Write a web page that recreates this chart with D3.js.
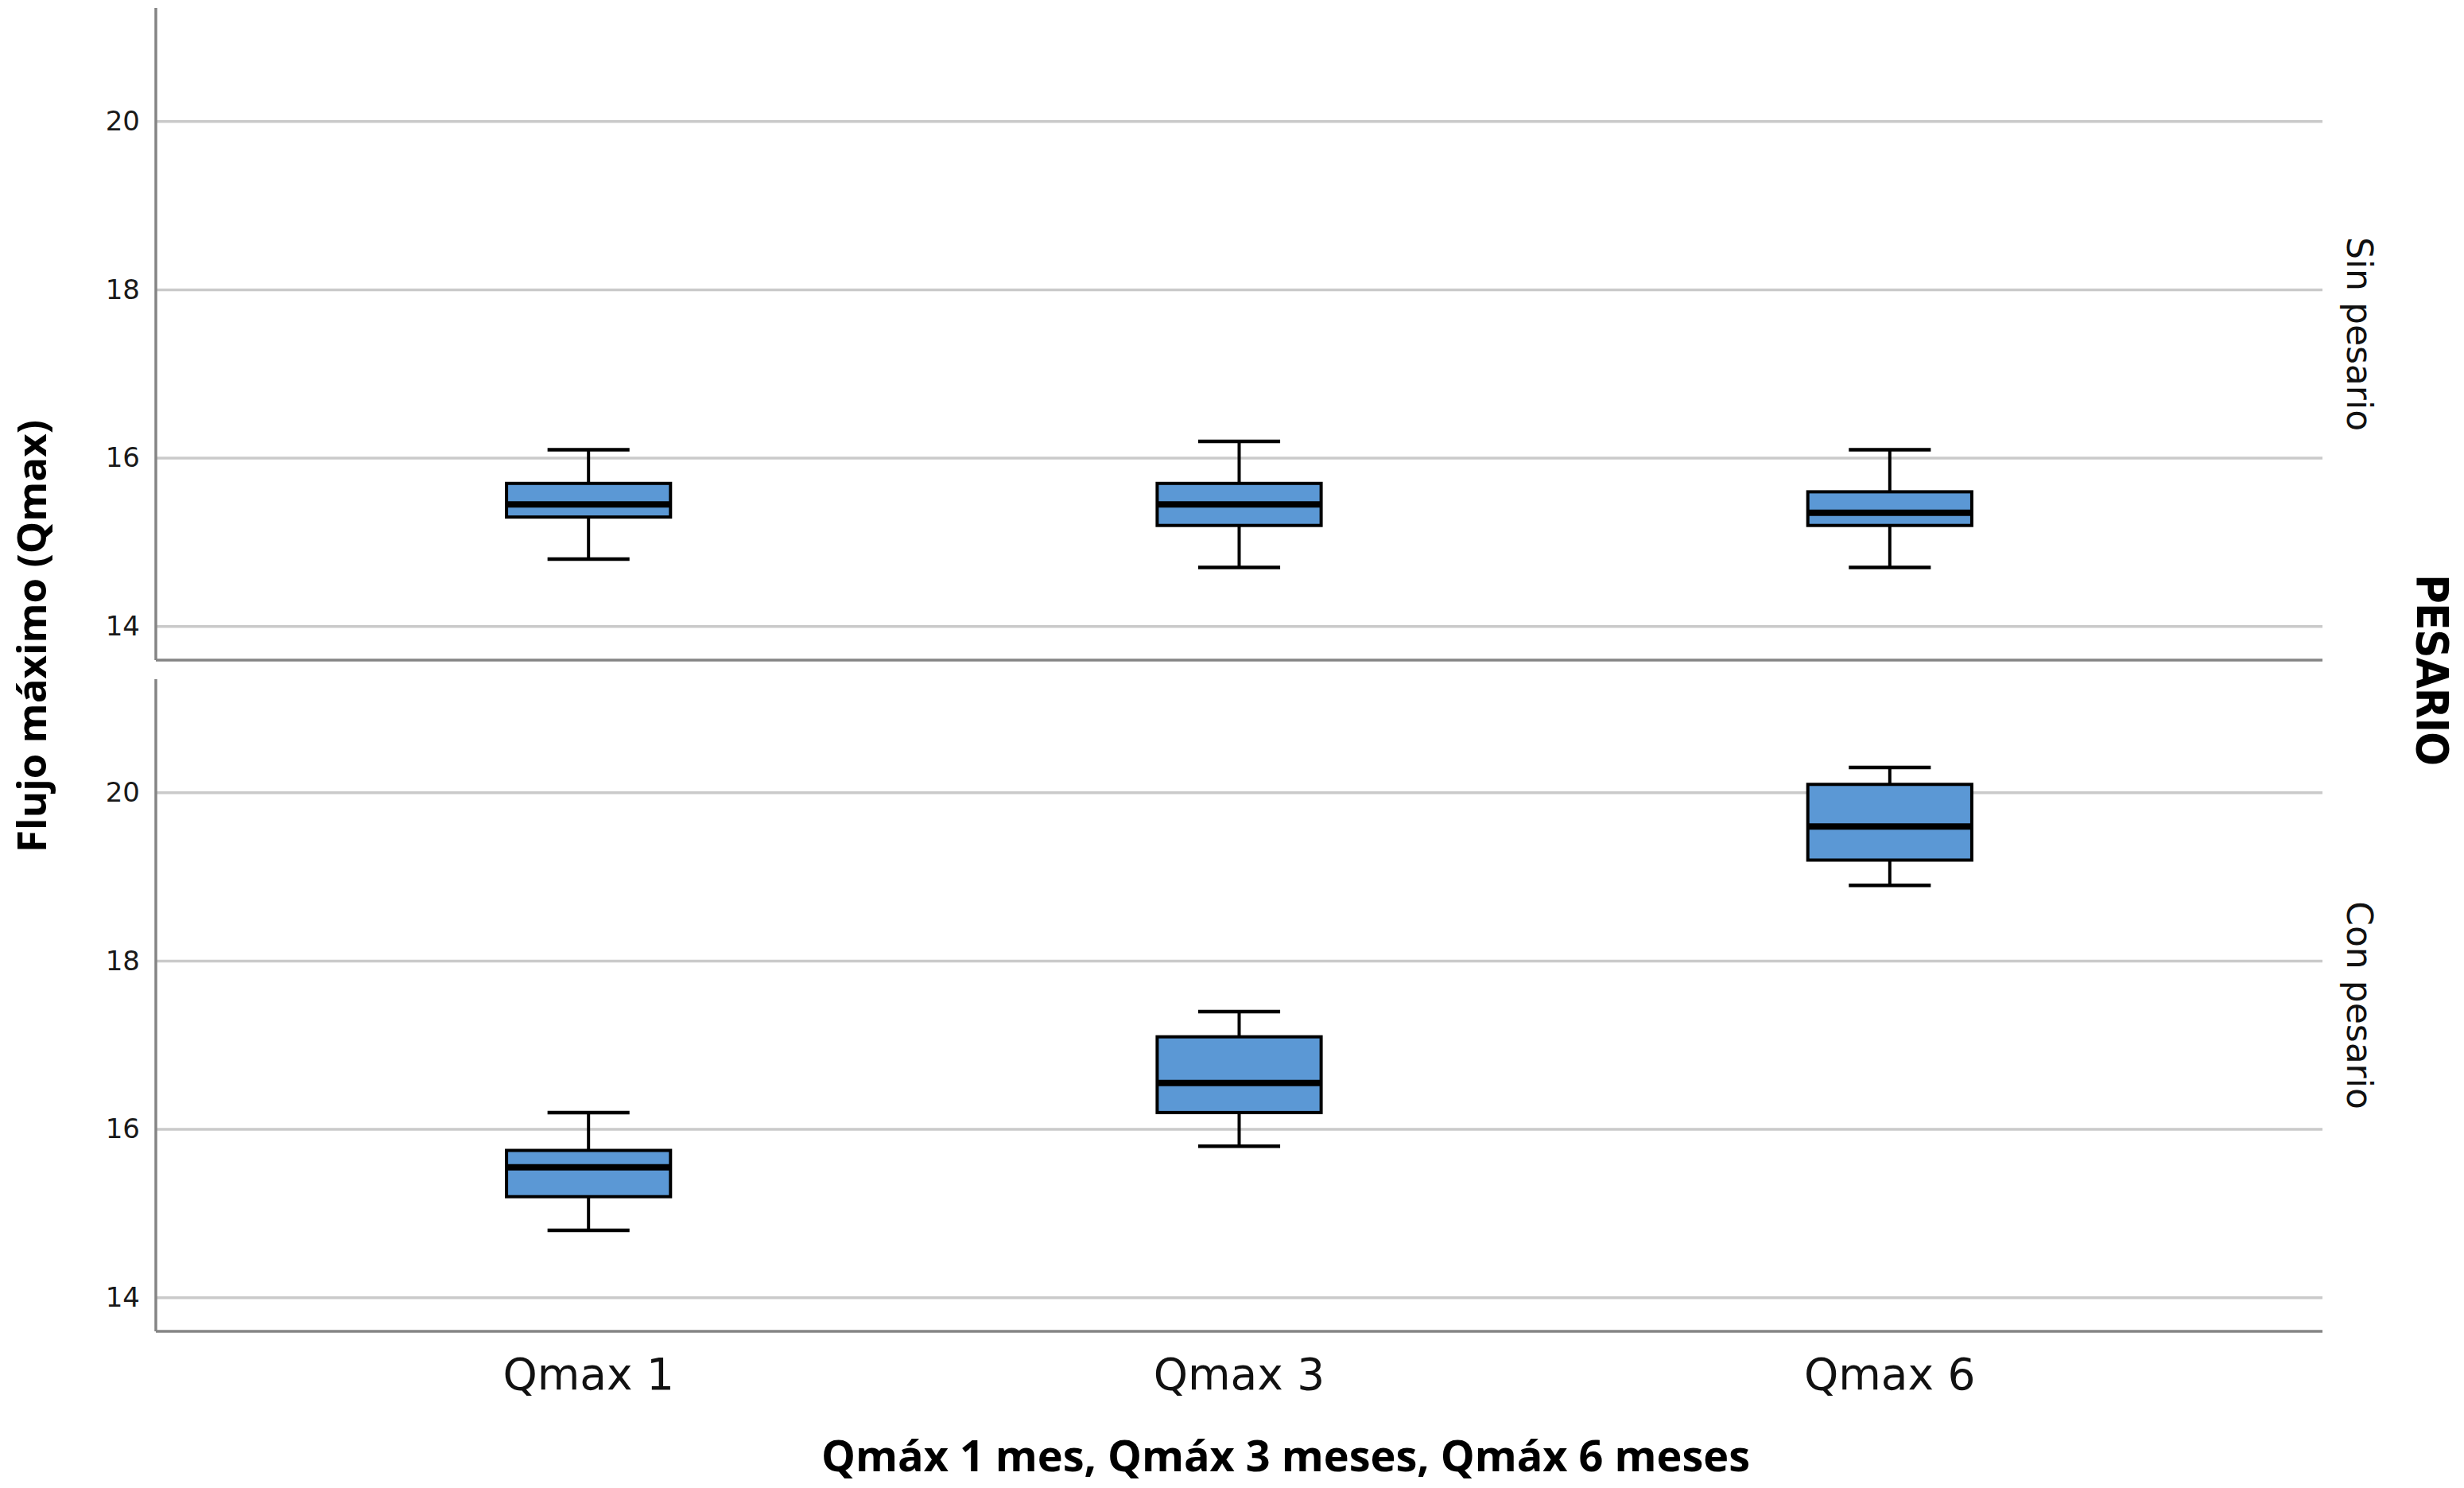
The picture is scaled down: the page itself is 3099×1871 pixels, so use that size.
<!DOCTYPE html>
<html>
<head>
<meta charset="utf-8">
<script src="https://cdn.jsdelivr.net/npm/d3@7"></script>
<style>
  body { margin: 0; background: #fff; }
  .tick-label { font-family: "DejaVu Sans", sans-serif; font-size: 34px; fill: #1a1a1a; }
  .cat-label { font-family: "DejaVu Sans", sans-serif; font-size: 55px; fill: #111; }
  .panel-label { font-family: "DejaVu Sans", sans-serif; font-size: 44px; fill: #111; }
  .title { font-family: "Open Sans", sans-serif; font-weight: 700; fill: #000; }
</style>
</head>
<body>
<svg width="3099" height="1871"></svg>
<script>
// data
var categories = ["Qmax 1", "Qmax 3", "Qmax 6"];
var panels = ["Sin pesario", "Con pesario"];
var yTicks = [14, 16, 18, 20];

var sinLow = [14.8, 14.7, 14.7];
var sinQ1 = [15.3, 15.2, 15.2];
var sinMed = [15.45, 15.45, 15.35];
var sinQ3 = [15.7, 15.7, 15.6];
var sinHigh = [16.1, 16.2, 16.1];

var conLow = [14.8, 15.8, 18.9];
var conQ1 = [15.2, 16.2, 19.2];
var conMed = [15.55, 16.55, 19.6];
var conQ3 = [15.75, 17.1, 20.1];
var conHigh = [16.2, 17.4, 20.3];

var boxes = [
    {low: sinLow, q1: sinQ1, med: sinMed, q3: sinQ3, high: sinHigh},
    {low: conLow, q1: conQ1, med: conMed, q3: conQ3, high: conHigh}
];

var left = 196, right = 2921,
    panelTops = [10, 854],
    panelH = 820;

var svg = d3.select("svg");

var x = d3.scalePoint()
    .domain(categories)
    .range([left, right])
    .padding(0.665);

var boxW = x.step() * 0.252;

panels.forEach(function(name, p) {
    var top = panelTops[p];
    var y = d3.scaleLinear()
        .domain([13.6, 21.35])
        .range([top + panelH, top]);
    var g = svg.append("g");

    // grid
    g.selectAll("line.grid")
        .data(yTicks)
        .enter().append("line")
        .attr("class", "grid")
        .attr("x1", left).attr("x2", right)
        .attr("y1", d => y(d)).attr("y2", d => y(d))
        .attr("stroke", "#cacaca")
        .attr("stroke-width", 3.5);

    // y axis with own labels
    var ax = g.append("g")
        .attr("transform", "translate(" + left + ",0)")
        .call(d3.axisLeft(y).tickValues(yTicks).tickSize(0).tickPadding(20));
    ax.select(".domain").remove();
    ax.selectAll("text").attr("class", "tick-label").attr("font-size", null).attr("font-family", null);

    g.append("line")
        .attr("x1", left).attr("x2", left)
        .attr("y1", top).attr("y2", top + panelH)
        .attr("stroke", "#858585").attr("stroke-width", 3.5);
    g.append("line")
        .attr("x1", left).attr("x2", right)
        .attr("y1", top + panelH).attr("y2", top + panelH)
        .attr("stroke", "#858585").attr("stroke-width", 3.5);

    var b = boxes[p];
    var items = categories.map(function(c, i) {
        return {cat: c, low: b.low[i], q1: b.q1[i], med: b.med[i], q3: b.q3[i], high: b.high[i]};
    });

    var bx = g.selectAll("g.box").data(items).enter().append("g").attr("class", "box");

    bx.append("line")
        .attr("x1", d => x(d.cat)).attr("x2", d => x(d.cat))
        .attr("y1", d => y(d.high)).attr("y2", d => y(d.q3))
        .attr("stroke", "#000").attr("stroke-width", 4);
    bx.append("line")
        .attr("x1", d => x(d.cat)).attr("x2", d => x(d.cat))
        .attr("y1", d => y(d.q1)).attr("y2", d => y(d.low))
        .attr("stroke", "#000").attr("stroke-width", 4);
    bx.append("line")
        .attr("x1", d => x(d.cat) - boxW / 4).attr("x2", d => x(d.cat) + boxW / 4)
        .attr("y1", d => y(d.high)).attr("y2", d => y(d.high))
        .attr("stroke", "#000").attr("stroke-width", 4.5);
    bx.append("line")
        .attr("x1", d => x(d.cat) - boxW / 4).attr("x2", d => x(d.cat) + boxW / 4)
        .attr("y1", d => y(d.low)).attr("y2", d => y(d.low))
        .attr("stroke", "#000").attr("stroke-width", 4.5);
    bx.append("rect")
        .attr("x", d => x(d.cat) - boxW / 2)
        .attr("y", d => y(d.q3))
        .attr("width", boxW)
        .attr("height", d => y(d.q1) - y(d.q3))
        .attr("fill", "#5b98d5")
        .attr("stroke", "#000").attr("stroke-width", 4);
    bx.append("line")
        .attr("x1", d => x(d.cat) - boxW / 2).attr("x2", d => x(d.cat) + boxW / 2)
        .attr("y1", d => y(d.med)).attr("y2", d => y(d.med))
        .attr("stroke", "#000").attr("stroke-width", 8);

    svg.append("text")
        .attr("class", "panel-label")
        .attr("transform", "translate(2952," + (top + panelH / 2) + ") rotate(90)")
        .attr("text-anchor", "middle")
        .text(name);
});

// category labels
svg.selectAll("text.cat-label")
    .data(categories)
    .enter().append("text")
    .attr("class", "cat-label")
    .attr("x", d => x(d))
    .attr("y", 1747)
    .attr("text-anchor", "middle")
    .text(d => d);

svg.append("text")
    .attr("class", "title")
    .attr("x", 1617).attr("y", 1850)
    .attr("text-anchor", "middle")
    .attr("font-size", 54)
    .text("Qmáx 1 mes, Qmáx 3 meses, Qmáx 6 meses");

svg.append("text")
    .attr("class", "title")
    .attr("transform", "translate(58,800) rotate(-90)")
    .attr("text-anchor", "middle")
    .attr("font-size", 51)
    .text("Flujo máximo (Qmax)");

svg.append("text")
    .attr("transform", "translate(3040,842) rotate(90)")
    .attr("text-anchor", "middle")
    .attr("font-family", "'Liberation Sans Narrow', 'DejaVu Sans Condensed', sans-serif")
    .attr("font-weight", 700)
    .attr("font-size", 56)
    .attr("letter-spacing", -1)
    .text("PESARIO");
</script>
</body>
</html>
